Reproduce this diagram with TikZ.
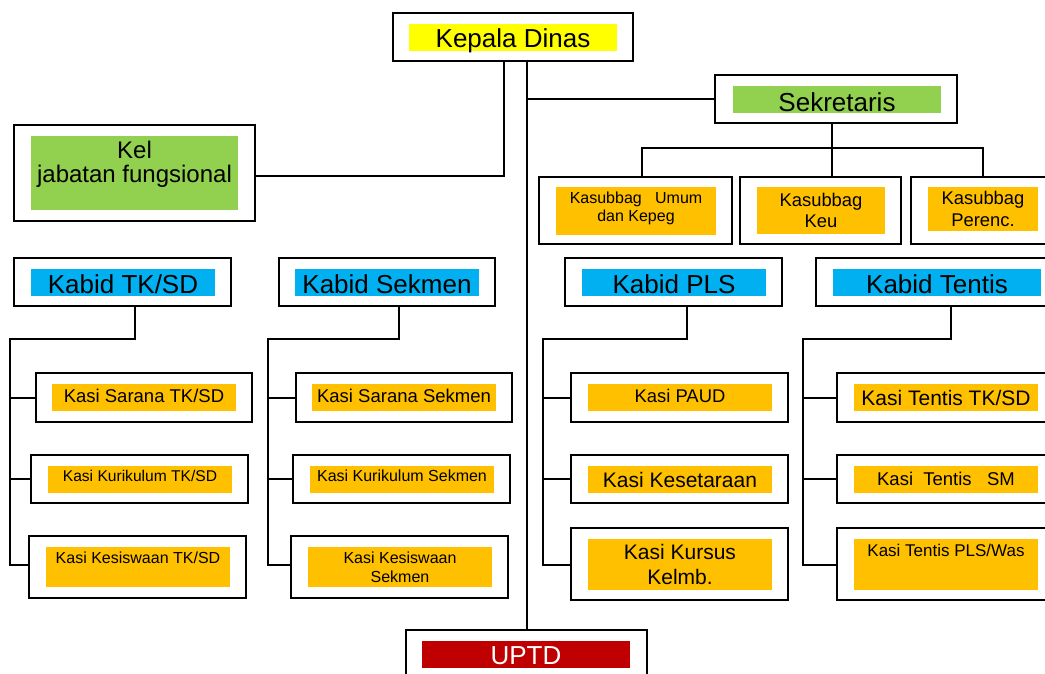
\documentclass[tikz,border=0pt]{standalone}
\usepackage{fontspec}
\setmainfont{Liberation Sans}
\definecolor{kuning}{HTML}{FFFF00}
\definecolor{hijau}{HTML}{92D050}
\definecolor{biru}{HTML}{00B0F0}
\definecolor{oranye}{HTML}{FFC000}
\definecolor{merah}{HTML}{C00000}
\tikzset{
  frame/.style={draw, line width=2pt, fill=white, inner sep=0pt},
  band/.style={inner sep=0pt, draw=none},
  word/.style={inner sep=0pt, align=center, text=black},
  link/.style={line width=2pt},
}
\begin{document}
\begin{tikzpicture}[x=1pt, y=-1pt]
    \useasboundingbox (0,0) rectangle (1045,673);
    \clip (0,0) rectangle (1045,673);
    % Top: Kepala Dinas, kel jabatan, sekretaris
    \node[frame, minimum width=240pt, minimum height=48pt] (kadis) at (513,37) {};
    \node[band, fill=kuning, minimum width=208pt, minimum height=27pt] (kadisF) at (513,37.5) {};
    \node[word, font=\fontsize{26}{28}\selectfont] at ([yshift=-3.5pt]kadisF) {Kepala Dinas};
    \node[frame, minimum width=241pt, minimum height=96pt] (kel) at (134.5,173) {};
    \node[band, fill=hijau, minimum width=207pt, minimum height=74pt] (kelF) at (134.5,173) {};
    \node[word, anchor=north, font=\fontsize{24}{24}\selectfont] at (134.5,141) {Kel\\jabatan fungsional};
    \node[frame, minimum width=242pt, minimum height=48pt] (sekr) at (836,99) {};
    \node[band, fill=hijau, minimum width=208pt, minimum height=27pt] (sekrF) at (837,99.5) {};
    \node[word, font=\fontsize{26}{28}\selectfont] at ([yshift=-3pt]sekrF) {Sekretaris};
    % Kasubbag
    \node[frame, minimum width=193pt, minimum height=67pt] (sub1) at (635.5,210.5) {};
    \node[band, fill=oranye, minimum width=160pt, minimum height=48pt] (sub1F) at (636,211) {};
    \node[word, anchor=north, font=\fontsize{16}{18}\selectfont] at (636,192) {Kasubbag\ \ \ Umum\\dan Kepeg};
    \node[frame, minimum width=161pt, minimum height=67pt] (sub2) at (820.5,210.5) {};
    \node[band, fill=oranye, minimum width=128pt, minimum height=47pt] (sub2F) at (821,210.5) {};
    \node[word, font=\fontsize{18.4}{21}\selectfont] at (sub2F) {Kasubbag\\Keu};
    \node[frame, minimum width=144pt, minimum height=67pt] (sub3) at (983,210.5) {};
    \node[band, fill=oranye, minimum width=110pt, minimum height=44pt] (sub3F) at (983,209) {};
    \node[word, font=\fontsize{18.4}{22}\selectfont] at (sub3F) {Kasubbag\\Perenc.};
    % Kabid
    \node[frame, minimum width=217pt, minimum height=48pt] (kab1) at (122.5,282) {};
    \node[band, fill=biru, minimum width=184pt, minimum height=27pt] (kab1F) at (123,282.5) {};
    \node[word, font=\fontsize{26}{28}\selectfont] at ([yshift=-2pt]kab1F) {Kabid TK/SD};
    \node[frame, minimum width=216pt, minimum height=48pt] (kab2) at (387,282) {};
    \node[band, fill=biru, minimum width=184pt, minimum height=27pt] (kab2F) at (387,282.5) {};
    \node[word, font=\fontsize{26}{28}\selectfont] at ([yshift=-2pt]kab2F) {Kabid Sekmen};
    \node[frame, minimum width=217pt, minimum height=48pt] (kab3) at (673.5,282) {};
    \node[band, fill=biru, minimum width=184pt, minimum height=27pt] (kab3F) at (674,282.5) {};
    \node[word, font=\fontsize{26}{28}\selectfont] at ([yshift=-2pt]kab3F) {Kabid PLS};
    \node[frame, minimum width=242pt, minimum height=48pt] (kab4) at (937,282) {};
    \node[band, fill=biru, minimum width=208pt, minimum height=27pt] (kab4F) at (937,282.5) {};
    \node[word, font=\fontsize{26}{28}\selectfont] at ([yshift=-2pt]kab4F) {Kabid Tentis};
    % Kasi TK/SD
    \node[frame, minimum width=216pt, minimum height=49pt] (tk1) at (144,397.5) {};
    \node[band, fill=oranye, minimum width=184pt, minimum height=27pt] (tk1F) at (144,397.5) {};
    \node[word, font=\fontsize{18.5}{20}\selectfont] at ([yshift=2pt]tk1F) {Kasi Sarana TK/SD};
    \node[frame, minimum width=217pt, minimum height=48pt] (tk2) at (139.5,479) {};
    \node[band, fill=oranye, minimum width=184pt, minimum height=27pt] (tk2F) at (140,479.5) {};
    \node[word, anchor=north, font=\fontsize{15.6}{18}\selectfont] at (140,469.5) {Kasi Kurikulum TK/SD};
    \node[frame, minimum width=217pt, minimum height=62pt] (tk3) at (137.5,567) {};
    \node[band, fill=oranye, minimum width=184pt, minimum height=40pt] (tk3F) at (138,567) {};
    \node[word, anchor=north, font=\fontsize{16}{18}\selectfont] at (138,552) {Kasi Kesiswaan TK/SD};
    % Kasi Sekmen
    \node[frame, minimum width=216pt, minimum height=49pt] (sm1) at (404,397.5) {};
    \node[band, fill=oranye, minimum width=184pt, minimum height=27pt] (sm1F) at (404,397.5) {};
    \node[word, font=\fontsize{18.5}{20}\selectfont] at ([yshift=2pt]sm1F) {Kasi Sarana Sekmen};
    \node[frame, minimum width=217pt, minimum height=48pt] (sm2) at (401.5,479) {};
    \node[band, fill=oranye, minimum width=184pt, minimum height=27pt] (sm2F) at (402,479.5) {};
    \node[word, anchor=north, font=\fontsize{16}{18}\selectfont] at (402,469.5) {Kasi Kurikulum Sekmen};
    \node[frame, minimum width=217pt, minimum height=62pt] (sm3) at (399.5,567) {};
    \node[band, fill=oranye, minimum width=184pt, minimum height=40pt] (sm3F) at (400,567) {};
    \node[word, font=\fontsize{16}{19}\selectfont] at (sm3F) {Kasi Kesiswaan\\Sekmen};
    % Kasi PLS
    \node[frame, minimum width=217pt, minimum height=49pt] (pl1) at (679.5,397.5) {};
    \node[band, fill=oranye, minimum width=184pt, minimum height=27pt] (pl1F) at (680,397.5) {};
    \node[word, font=\fontsize{18.4}{20}\selectfont] at ([yshift=2pt]pl1F) {Kasi PAUD};
    \node[frame, minimum width=217pt, minimum height=48pt] (pl2) at (679.5,479) {};
    \node[band, fill=oranye, minimum width=184pt, minimum height=27pt] (pl2F) at (680,479.5) {};
    \node[word, font=\fontsize{21}{23}\selectfont] at (pl2F) {Kasi Kesetaraan};
    \node[frame, minimum width=217pt, minimum height=72pt] (pl3) at (679.5,564) {};
    \node[band, fill=oranye, minimum width=184pt, minimum height=51pt] (pl3F) at (680,564.5) {};
    \node[word, font=\fontsize{21}{25}\selectfont] at (pl3F) {Kasi Kursus\\Kelmb.};
    % Kasi Tentis
    \node[frame, minimum width=218pt, minimum height=49pt] (tn1) at (946,397.5) {};
    \node[band, fill=oranye, minimum width=184pt, minimum height=27pt] (tn1F) at (946,397.5) {};
    \node[word, font=\fontsize{21}{23}\selectfont] at (tn1F) {Kasi Tentis TK/SD};
    \node[frame, minimum width=218pt, minimum height=48pt] (tn2) at (946,479) {};
    \node[band, fill=oranye, minimum width=184pt, minimum height=27pt] (tn2F) at (946,479.5) {};
    \node[word, font=\fontsize{18.5}{20}\selectfont] at ([yshift=1pt]tn2F) {Kasi\ \ Tentis\ \ \ SM};
    \node[frame, minimum width=218pt, minimum height=72pt] (tn3) at (946,564) {};
    \node[band, fill=oranye, minimum width=184pt, minimum height=51pt] (tn3F) at (946,564.5) {};
    \node[word, anchor=north, font=\fontsize{17}{19}\selectfont] at (946,543.5) {Kasi Tentis PLS/Was};
    % UPTD
    \node[frame, minimum width=241pt, minimum height=48pt] (uptd) at (526.5,654) {};
    \node[band, fill=merah, minimum width=208pt, minimum height=27pt] (uptdF) at (526,654.5) {};
    \node[word, text=white, font=\fontsize{26}{28}\selectfont] at ([yshift=-1.5pt]uptdF) {UPTD};
    % Lines
    \draw[link] ([xshift=13.5pt]kadis.south) -- (uptd.north);
    \draw[link] ([yshift=-3pt]kel.east) -| ([xshift=-9pt]kadis.south);
    \draw[link] (sekr.west) -- (sekr.west -| uptd.north);
    \draw[link] ([xshift=-4pt]sekr.south) -- ([xshift=-4pt]sekr.south |- sub2.north);
    \draw[link] ([xshift=6pt]sub1.north) -- ++(0,-28) -| (sub3.north);
    % Kabid branches
    \coordinate (spA) at (10,339);
    \coordinate (spB) at (268,339);
    \coordinate (spC) at (543,339);
    \coordinate (spD) at (803,339);
    \draw[link] ([xshift=12.5pt]kab1.south) |- (spA) |- ([yshift=2pt]tk3.west);
    \draw[link] (spA |- tk1.west) -- (tk1.west);
    \draw[link] (spA |- tk2.west) -- (tk2.west);
    \draw[link] ([xshift=12pt]kab2.south) |- (spB) |- ([yshift=2pt]sm3.west);
    \draw[link] (spB |- sm1.west) -- (sm1.west);
    \draw[link] (spB |- sm2.west) -- (sm2.west);
    \draw[link] ([xshift=13.5pt]kab3.south) |- (spC) |- ([yshift=-1pt]pl3.west);
    \draw[link] (spC |- pl1.west) -- (pl1.west);
    \draw[link] (spC |- pl2.west) -- (pl2.west);
    \draw[link] ([xshift=14pt]kab4.south) |- (spD) |- ([yshift=-1pt]tn3.west);
    \draw[link] (spD |- tn1.west) -- (tn1.west);
    \draw[link] (spD |- tn2.west) -- (tn2.west);
\end{tikzpicture}
\end{document}
